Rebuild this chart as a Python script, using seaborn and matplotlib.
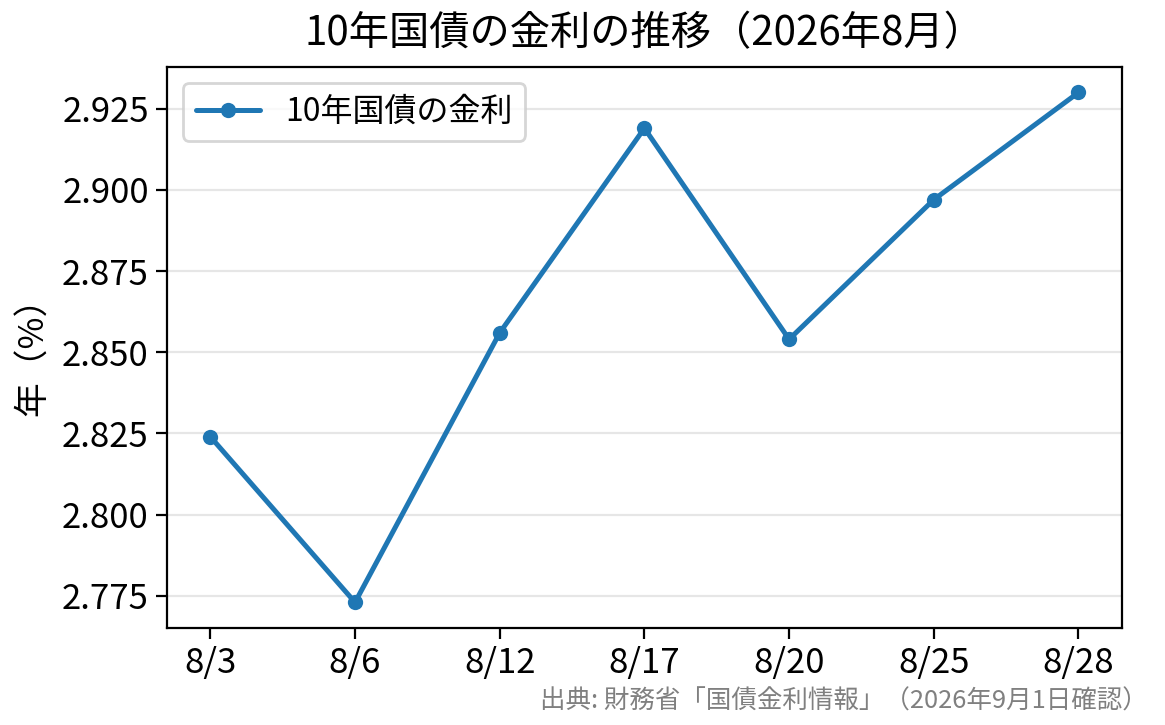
import matplotlib
matplotlib.use("Agg")
import matplotlib.pyplot as plt
import seaborn as sns
import pandas as pd

# 10年国債の金利（2026年8月）
dates = ["8/3", "8/6", "8/12", "8/17", "8/20", "8/25", "8/28"]
rates = [2.824, 2.773, 2.856, 2.919, 2.854, 2.897, 2.930]

sns.set_style("white")
plt.rcParams['font.family'] = ['Noto Sans CJK JP', 'DejaVu Sans']
plt.rcParams['text.color'] = 'black'
plt.rcParams['axes.labelcolor'] = 'black'
plt.rcParams['xtick.color'] = 'black'
plt.rcParams['ytick.color'] = 'black'

df = pd.DataFrame({"日付": dates, "金利": rates})

fig, ax = plt.subplots(figsize=(5.825, 3.625), dpi=200)
fig.subplots_adjust(left=0.1433, right=0.963, bottom=0.134, top=0.9076)

sns.lineplot(data=df, x="日付", y="金利", marker="o", sort=False,
             color="#1f77b4", linewidth=1.8, markersize=5.5,
             markeredgewidth=0, label="10年国債の金利", ax=ax)

ax.set_title("10年国債の金利の推移（2026年8月）", fontsize=14.5, pad=8)
ax.set_xlabel("")
ax.set_ylabel("年（%）", fontsize=12.5)
ax.tick_params(axis="both", labelsize=12.5, length=4, width=0.8, color="black",
               left=True, bottom=True, pad=2.5)
ax.grid(axis="y", color="#e6e6e6", linewidth=0.8)
ax.set_axisbelow(True)
for s in ax.spines.values():
    s.set_color("black")
    s.set_linewidth(0.8)

ax.legend(loc="upper left", fontsize=11.5, frameon=True)

fig.text(0.985, 0.014, "出典: 財務省「国債金利情報」（2026年9月1日確認）",
         ha="right", va="bottom", fontsize=9.2, color="gray")

fig.savefig("out.png", dpi=200)
